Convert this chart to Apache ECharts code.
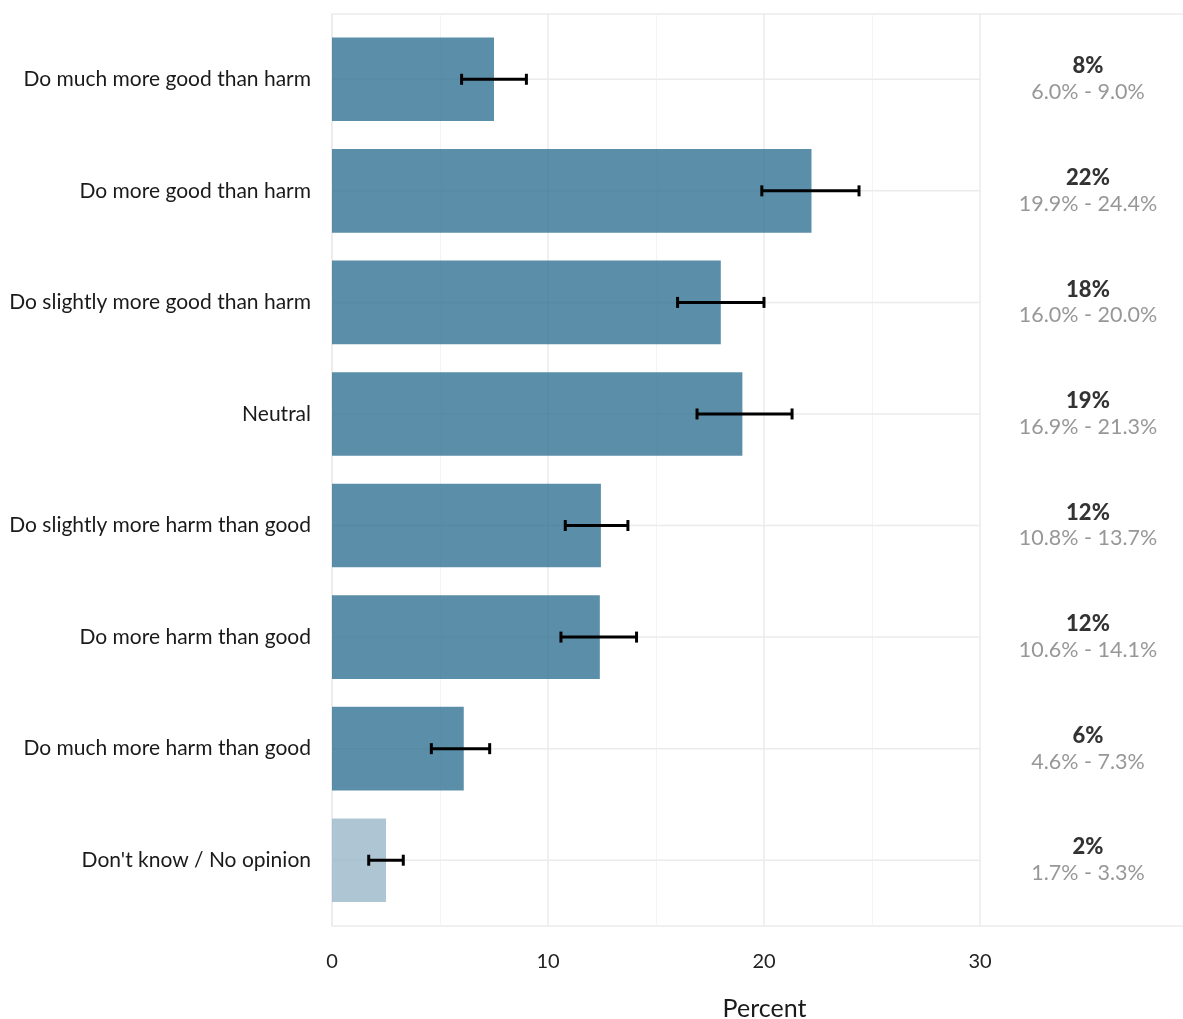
<!DOCTYPE html>
<html><head><meta charset="utf-8">
<script src="https://cdn.jsdelivr.net/npm/echarts@6.0.0/dist/echarts.min.js"></script>
<style>html,body{margin:0;padding:0;background:#fff}#c{width:1183px;height:1019px}</style>
</head><body><div id="c"></div>
<script>
const categories = [
  'Do much more good than harm',
  'Do more good than harm',
  'Do slightly more good than harm',
  'Neutral',
  'Do slightly more harm than good',
  'Do more harm than good',
  'Do much more harm than good',
  "Don't know / No opinion"
];
const values = [7.5, 22.2, 18.0, 19.0, 12.45, 12.4, 6.1, 2.5];
const ciLow = [6.0, 19.9, 16.0, 16.9, 10.8, 10.6, 4.6, 1.7];
const ciHigh = [9.0, 24.4, 20.0, 21.3, 13.7, 14.1, 7.3, 3.3];
const pctLabels = ['8%', '22%', '18%', '19%', '12%', '12%', '6%', '2%'];
const xTicks = [0, 10, 20, 30];
const labelColumnX = 35;

const FONT = 'Lato';
const mainColor = 'rgba(50,114,146,0.8)';
const lightColor = 'rgba(154,184,201,0.8)';
const gridMax = xTicks[xTicks.length - 1];

const chart = echarts.init(document.getElementById('c'));
chart.setOption({
  animation: false,
  textStyle: { fontFamily: FONT },
  grid: [
    { left: 332, right: 0, top: 23.5, bottom: 103, outerBoundsMode: 'none', containLabel: false },
    { left: 332, right: 203, top: 14, bottom: 93, outerBoundsMode: 'none', containLabel: false },
    { left: 332, right: -5, top: 14, bottom: 93, outerBoundsMode: 'none', containLabel: false, show: true, borderColor: '#ebebeb', borderWidth: 1.5, backgroundColor: 'transparent' }
  ],
  xAxis: [
    { gridIndex: 0, type: 'value', min: 0, max: 39.4,
      axisLine: { show: false }, axisTick: { show: false }, axisLabel: { show: false }, splitLine: { show: false },
      name: 'Percent', nameLocation: 'middle', nameGap: 80,
      nameTextStyle: { fontSize: 25, color: '#1a1a1a', fontFamily: FONT, padding: [0, 0, 0, 14] } },
    { gridIndex: 1, type: 'value', min: 0, max: gridMax, interval: 10,
      axisLine: { show: false }, axisTick: { show: false },
      axisLabel: { fontSize: 20, color: '#222', margin: 26, fontFamily: FONT,
        formatter: v => xTicks.includes(v) ? String(v) : '' },
      splitLine: { show: true, lineStyle: { color: '#ebebeb', width: 1.5 } },
      minorTick: { show: false, splitNumber: 2 },
      minorSplitLine: { show: true, lineStyle: { color: '#f3f3f3', width: 1 } } },
    { gridIndex: 2, type: 'value', show: false, min: 0, max: 1 }
  ],
  yAxis: [
    { gridIndex: 0, type: 'category', data: categories, inverse: true,
      axisLine: { show: false }, axisTick: { show: false }, splitLine: { show: false },
      axisLabel: { fontSize: 21, color: '#1a1a1a', margin: 21, fontFamily: FONT } },
    { gridIndex: 1, type: 'value', show: false, splitLine: { show: false } },
    { gridIndex: 2, type: 'value', show: false, splitLine: { show: false }, min: 0, max: 1 }
  ],
  series: [
    { type: 'custom', xAxisIndex: 0, yAxisIndex: 0, z: 1, silent: true,
      data: categories.map((c, i) => [0, gridMax, i]),
      encode: { x: [0, 1], y: 2 },
      renderItem: (params, api) => {
        const a = api.coord([api.value(0), api.value(2)]);
        const b = api.coord([api.value(1), api.value(2)]);
        return { type: 'line', shape: { x1: a[0], y1: a[1], x2: b[0], y2: b[1] },
          style: { stroke: '#ebebeb', lineWidth: 1.5 } };
      } },
    { type: 'bar', xAxisIndex: 0, yAxisIndex: 0, z: 2, barWidth: '75%',
      data: values.map((v, i) => ({ value: v,
        itemStyle: { color: categories[i].startsWith("Don't") ? lightColor : mainColor } })) },
    { type: 'custom', xAxisIndex: 0, yAxisIndex: 0, z: 3, silent: true,
      data: ciLow.map((l, i) => [l, ciHigh[i], i]),
      encode: { x: [0, 1], y: 2 },
      renderItem: (params, api) => {
        const a = api.coord([api.value(0), api.value(2)]);
        const b = api.coord([api.value(1), api.value(2)]);
        const h = 5.5;
        const st = { stroke: '#000', lineWidth: 3 };
        return { type: 'group', children: [
          { type: 'line', shape: { x1: a[0], y1: a[1], x2: b[0], y2: b[1] }, style: st },
          { type: 'line', shape: { x1: a[0], y1: a[1] - h, x2: a[0], y2: a[1] + h }, style: st },
          { type: 'line', shape: { x1: b[0], y1: b[1] - h, x2: b[0], y2: b[1] + h }, style: st }
        ] };
      } },
    { type: 'scatter', xAxisIndex: 0, yAxisIndex: 0, z: 4, symbolSize: 0, silent: true,
      data: categories.map((c, i) => [labelColumnX, i]),
      label: { show: true, position: 'inside',
        formatter: p => '{b|' + pctLabels[p.dataIndex] + '}\n{g|' + ciLow[p.dataIndex].toFixed(1) + '% - ' + ciHigh[p.dataIndex].toFixed(1) + '%}',
        rich: {
          b: { fontSize: 22, fontWeight: 900, color: '#000', lineHeight: 26, align: 'center', fontFamily: FONT },
          g: { fontSize: 21.5, color: '#7d7d7d', lineHeight: 26, align: 'center', fontFamily: FONT }
        } } }
  ]
});
</script></body></html>
